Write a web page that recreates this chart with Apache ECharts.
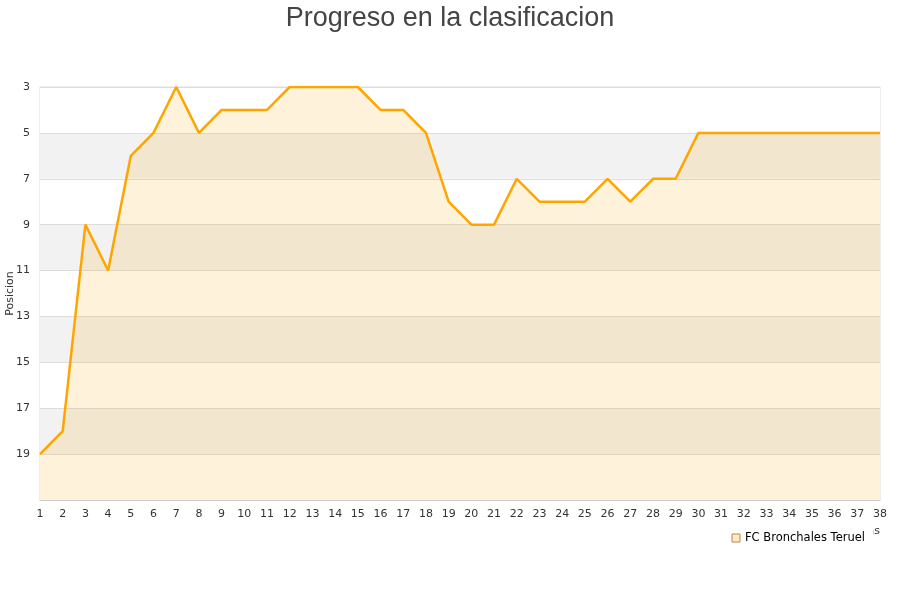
<!DOCTYPE html>
<html><head><meta charset="utf-8">
<script src="https://cdn.jsdelivr.net/npm/echarts@6/dist/echarts.min.js"></script>
<style>html,body{margin:0;padding:0;background:#fff}#c{width:900px;height:600px}</style>
</head><body><div id="c"></div>
<script>
var jornadas = ['1','2','3','4','5','6','7','8','9','10','11','12','13','14','15','16','17','18','19','20','21','22','23','24','25','26','27','28','29','30','31','32','33','34','35','36','37','38'];
var posiciones = [19,18,9,11,6,5,3,5,4,4,4,3,3,3,3,4,4,5,8,9,9,7,8,8,8,7,8,7,7,5,5,5,5,5,5,5,5,5];
var teamName = 'FC Bronchales Teruel';
var chart = echarts.init(document.getElementById('c'));
chart.setOption({
  animation: false,
  backgroundColor: '#fff',
  title: { text: 'Progreso en la clasificacion', left: 'center', top: 0,
    textStyle: { fontFamily: 'Liberation Sans', fontSize: 27, fontWeight: 'normal', color: '#444' } },
  legend: { data: [teamName], right: 27, top: 526, icon: 'rect', itemWidth: 8, itemHeight: 8, itemGap: 6,
    backgroundColor: '#fff', padding: [6,8,3,5], z: 10,
    itemStyle: { color: '#ffe9c4', borderColor: '#b08a4a', borderWidth: 1 },
    textStyle: { fontFamily: 'DejaVu Sans', fontSize: 11.5, color: '#000' } },
  grid: { left: 40, right: 20, top: 87, bottom: 100, containLabel: false, outerBoundsMode: 'none',
    show: true, borderColor: '#ddd', borderWidth: 1 },
  xAxis: { type: 'category', data: jornadas, boundaryGap: false,
    name: 'Jornadas', nameLocation: 'end', nameGap: 0, nameMoveOverlap: false,
    nameTextStyle: { fontFamily: 'DejaVu Sans', fontSize: 11, color: '#333', align: 'right', verticalAlign: 'top', padding: [26,0,0,0] },
    axisLine: { lineStyle: { color: '#ccc' } }, axisTick: { show: false },
    axisLabel: { fontFamily: 'DejaVu Sans', fontSize: 11, color: '#333', interval: 0, margin: 9 },
    splitLine: { show: false } },
  yAxis: { type: 'value', inverse: true, min: 3, max: 21, interval: 2,
    name: 'Posicion', nameLocation: 'middle', nameGap: 24, nameMoveOverlap: false,
    nameTextStyle: { fontFamily: 'DejaVu Sans', fontSize: 11, color: '#333' },
    axisLine: { show: false }, axisTick: { show: false },
    axisLabel: { fontFamily: 'DejaVu Sans', fontSize: 11, color: '#333', margin: 10,
      formatter: function (v) { return v === 21 ? '' : String(v); } },
    splitLine: { show: true, lineStyle: { color: '#ddd' } },
    splitArea: { show: true, areaStyle: { color: ['#ffffff', '#f2f2f2'] } } },
  series: [{ name: teamName, type: 'line', data: posiciones, symbol: 'none',
    itemStyle: { color: '#ffe9c4', borderColor: '#b08a4a', borderWidth: 1 },
    lineStyle: { color: '#ffa500', width: 2.5 },
    areaStyle: { color: 'rgba(255,165,0,0.2)', origin: 'end' } }]
});
</script></body></html>
